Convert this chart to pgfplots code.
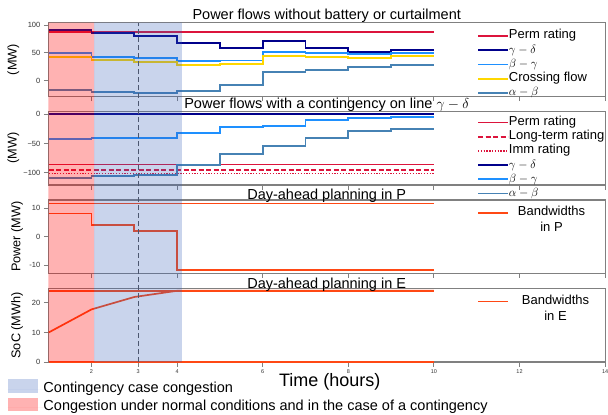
\documentclass[border=0pt]{standalone}
\usepackage{fontspec}
\setmainfont{Liberation Sans}
\usepackage{pgfplots}
\pgfplotsset{compat=1.18}
\definecolor{crimsonc}{RGB}{220,20,60}
\definecolor{navyc}{RGB}{0,0,139}
\definecolor{dodger}{RGB}{30,144,255}
\definecolor{goldc}{RGB}{255,215,0}
\definecolor{steel}{RGB}{70,130,180}
\definecolor{ored}{RGB}{255,72,20}
\definecolor{spanblue}{RGB}{55,95,185}
\definecolor{framec}{RGB}{128,128,128}
\definecolor{tickc}{RGB}{51,51,51}
\definecolor{dashc}{RGB}{85,85,85}

\pgfplotsset{
 panel/.style={
  width=556.8pt, scale only axis, xmin=0.99, xmax=14, clip=false,
  axis line style={framec, line width=1.1pt},
  tick style={framec, line width=0.9pt},
  tick align=outside, major tick length=4.5pt, tick pos=left,
  xtick={2,4,6,8,10,12,14}, xticklabels={},
  yticklabel style={font=\fontsize{7.5}{8}\selectfont, text=tickc},
  /pgf/number format/assume math mode=true,
  title style={font=\fontsize{14.5}{15}\selectfont, anchor=base},
  ylabel style={font=\fontsize{12.7}{14}\selectfont},
  legend style={draw=none, fill=none, font=\fontsize{13}{15.6}\selectfont, anchor=north west,
    row sep=0pt, inner sep=0pt, nodes={inner sep=0pt, text height=10pt, text depth=4.2pt}},
  legend cell align=left,
  legend image code/.code={\draw[#1] (0pt,0pt) -- (23pt,0pt); \path (0pt,0pt) -- (30pt,0pt);},
  every axis plot/.append style={line width=1.7pt},
 }
}

\begin{document}
\begin{tikzpicture}
\path[use as bounding box] (0pt,0pt) rectangle (608pt,-415pt);

% Panel 1
\begin{axis}[panel, at={(48.3pt,-22.7pt)}, anchor=north west, height=74pt,
  ymin=-28.7, ymax=104.1, ytick={0,50,100},
  title={Power flows without battery or curtailment}, title style={at={(0.5,1)}, yshift=-3pt},
  ylabel={(MW)}, ylabel style={at={([xshift=-31.6pt]axis description cs:0,0.5)}, anchor=base},
  legend style={at={(axis description cs:0.770,0.918)}}]
\addplot[crimsonc] coordinates {(1,86.9) (10,86.9)};
\addlegendentry{Perm rating}
\addplot[navyc, const plot] coordinates {(1,91.0)(2,85.0)(3,80.8)(4,67.1)(5,58.7)(6,70.7)(7,59.2)(8,52.1)(9,55.1)(10,55.1)};
\addlegendentry{$\gamma-\delta$}
\addplot[dodger, const plot] coordinates {(1,49.2)(2,42.5)(3,40.2)(4,35.4)(5,36.4)(6,51.0)(7,49.2)(8,47.9)(9,50.3)(10,50.3)};
\addlegendentry{$\beta-\gamma$}
\addplot[goldc, const plot] coordinates {(1,42.0)(2,36.6)(3,34.1)(4,28.2)(5,30.0)(6,44.3)(7,42.0)(8,41.3)(9,43.8)(10,43.8)};
\addlegendentry{Crossing flow}
\addplot[steel, const plot] coordinates {(1,-16.7)(2,-20.8)(3,-22.1)(4,-18.0)(5,-7.7)(6,16.2)(7,19.2)(8,24.1)(9,28.7)(10,28.7)};
\addlegendentry{$\alpha-\beta$}
\end{axis}

% Panel 2
\begin{axis}[panel, at={(48.3pt,-111.3pt)}, anchor=north west, height=73.7pt,
  ymin=-121, ymax=5.1, ytick={-100,-50,0}, yticklabels={−100,−50,0},
  title={Power flows with a contingency on line $\gamma-\delta$}, title style={at={(0.5,1)}, yshift=-3.5pt},
  ylabel={(MW)}, ylabel style={at={([xshift=-31.6pt]axis description cs:0,0.5)}, anchor=base},
  legend style={at={(axis description cs:0.770,0.947)}}]
\addplot[crimsonc] coordinates {(1,-86) (10,-86)};
\addlegendentry{Perm rating}
\addplot[crimsonc, dash pattern=on 5pt off 2.5pt] coordinates {(1,-95) (10,-95)};
\addlegendentry{Long-term rating}
\addplot[crimsonc, line width=1.3pt, dash pattern=on 1.3pt off 1.5pt] coordinates {(1,-101) (10,-101)};
\addlegendentry{Imm rating}
\addplot[navyc] coordinates {(1,0) (10,0)};
\addlegendentry{$\gamma-\delta$}
\addplot[dodger, const plot] coordinates {(1,-42.8)(2,-41.1)(3,-40.1)(4,-32.5)(5,-22.3)(6,-20.0)(7,-9.8)(8,-5.8)(9,-4.1)(10,-4.1)};
\addlegendentry{$\beta-\gamma$}
\addplot[steel, const plot] coordinates {(1,-108.6)(2,-105.1)(3,-103.4)(4,-86.8)(5,-68.5)(6,-54.3)(7,-40.1)(8,-28.6)(9,-25.2)(10,-25.2)};
\addlegendentry{$\alpha-\beta$}
\end{axis}

% Panel 3
\begin{axis}[panel, at={(48.3pt,-200pt)}, anchor=north west, height=73.3pt,
  ymin=-12.9, ymax=12.9, ytick={-10,0,10}, yticklabels={-10,0,10},
  title={Day-ahead planning in P}, title style={at={(0.5,1)}, yshift=-5.5pt},
  ylabel={Power (MW)}, ylabel style={at={([xshift=-27.8pt]axis description cs:0,0.5)}, anchor=base},
  legend style={at={(axis description cs:0.770,0.921)}}]
\addplot[ored] coordinates {(1,11.7) (10,11.7)};
\addlegendentry{\begin{tabular}[t]{@{\hspace{9pt}}c@{}}Bandwidths\\in P\end{tabular}}
\addplot[ored, const plot, forget plot] coordinates {(1,8.1)(2,4.2)(3,2.1)(4,-11.7)(10,-11.7)};
\end{axis}

% Panel 4
\begin{axis}[panel, at={(48.3pt,-288.7pt)}, anchor=north west, height=73.3pt,
  ymin=0, ymax=24.8, ytick={0,10,20},
  xtick={2,3.09,4,6,8,10,12,14}, xticklabels={2,3,4,6,8,10,12,14},
  xticklabel style={font=\fontsize{5.5}{6}\selectfont, text=tickc},
  title={Day-ahead planning in E}, title style={at={(0.5,1)}, yshift=-5.5pt},
  ylabel={SoC (MWh)}, ylabel style={at={([xshift=-27.8pt]axis description cs:0,0.5)}, anchor=base},
  xlabel={Time (hours)}, xlabel style={font=\fontsize{18}{20}\selectfont, at={([xshift=3pt,yshift=-24.5pt]axis description cs:0.5,0)}, anchor=base},
  legend style={at={(axis description cs:0.770,0.925)}}]
\addplot[ored] coordinates {(1,24.1) (10,24.1)};
\addlegendentry{\begin{tabular}[t]{@{\hspace{13pt}}c@{}}Bandwidths\\in E\end{tabular}}
\addplot[ored, forget plot] coordinates {(1,0) (10,0)};
\addplot[ored, forget plot] coordinates {(1,10)(2,17.8)(3,22.0)(4,24.1)(10,24.1)};
\end{axis}

% Overlay spans and contingency marker
\begin{axis}[width=556.8pt, height=339.3pt, scale only axis, at={(48.3pt,-22.7pt)}, anchor=north west,
  xmin=0.99, xmax=14, ymin=0, ymax=1, hide axis, clip=false,
  legend style={draw=none, fill=none, font=\fontsize{14.5}{16}\selectfont, anchor=north west,
    at={([xshift=-41pt,yshift=-17pt]axis description cs:0,0)}, row sep=0pt, inner sep=0pt,
    nodes={inner sep=0pt, text height=11pt, text depth=5pt}},
  legend cell align=left,
  legend image code/.code={\fill[#1] (0pt,-3pt) rectangle (30.4pt,10.3pt); \path (0pt,0pt) -- (36pt,0pt);}]
\addplot[dashc, line width=1.3pt, dash pattern=on 5pt off 3pt, forget plot] coordinates {(3.09,0) (3.09,1)};
\addplot[fill=spanblue, fill opacity=0.27, draw=none] coordinates {(2.06,0) (4.11,0) (4.11,1) (2.06,1) (2.06,0)};
\addlegendentry{Contingency case congestion}
\addplot[fill=red, fill opacity=0.3, draw=none] coordinates {(0.99,0) (2.06,0) (2.06,1) (0.99,1) (0.99,0)};
\addlegendentry{Congestion under normal conditions and in the case of a contingency}
\end{axis}
\end{tikzpicture}
\end{document}
